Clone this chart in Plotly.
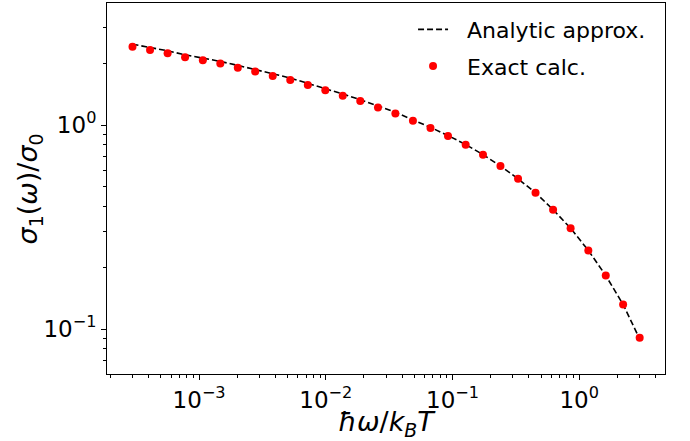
import numpy as np
import plotly.graph_objects as go

# x values: hbar*omega/(k_B T), log spaced
x_vals = [2.98e-4, 4.10e-4, 5.64e-4, 7.75e-4, 1.07e-3, 1.47e-3, 2.02e-3, 2.77e-3,
          3.81e-3, 5.24e-3, 7.21e-3, 9.91e-3, 1.36e-2, 1.87e-2, 2.58e-2, 3.54e-2,
          4.87e-2, 6.70e-2, 9.21e-2, 0.127, 0.174, 0.239, 0.329, 0.452, 0.622,
          0.855, 1.18, 1.62, 2.22, 3.0]

exact_vals = [2.42, 2.33, 2.25, 2.15, 2.08, 2.00, 1.91, 1.83, 1.74, 1.66,
              1.57, 1.48, 1.39, 1.31, 1.22, 1.14, 1.05, 0.967, 0.883, 0.80,
              0.715, 0.630, 0.545, 0.466, 0.385, 0.312, 0.243, 0.183, 0.132, 0.0906]

analytic_vals = [2.49, 2.40, 2.31, 2.21, 2.13, 2.05, 1.96, 1.87, 1.78, 1.70,
                 1.60, 1.51, 1.42, 1.33, 1.24, 1.155, 1.06, 0.975, 0.888, 0.803,
                 0.716, 0.630, 0.545, 0.466, 0.385, 0.312, 0.243, 0.183, 0.132, 0.0895]

x_tickvals = [1e-3, 1e-2, 1e-1, 1e0]
x_ticktext = ["10<sup>−3</sup>", "10<sup>−2</sup>", "10<sup>−1</sup>", "10<sup>0</sup>"]
y_tickvals = [1e-1, 1e0]
y_ticktext = ["10<sup>−1</sup>", "10<sup>0</sup>"]

FONT = "DejaVu Sans"
PAD = "\u00a0\u00a0"

fig = go.Figure()
fig.add_trace(go.Scatter(
    x=x_vals, y=analytic_vals, mode="lines", name=PAD + "Analytic approx.",
    line=dict(color="black", width=1.6, dash="6px,3px"), legendgroup="a",
))
fig.add_trace(go.Scatter(
    x=x_vals, y=exact_vals, mode="markers", name=PAD + "Exact calc.",
    marker=dict(color="red", size=8, line=dict(width=0)), legendgroup="b",
))

axis_common = dict(
    type="log", showgrid=False, zeroline=False, automargin=False,
    showline=True, linecolor="black", linewidth=1, mirror=True,
    ticks="outside", ticklen=5, tickwidth=1, tickcolor="black",
    tickfont=dict(family=FONT, size=23, color="black"),
    minor=dict(ticks="outside", ticklen=3, tickwidth=0.8, tickcolor="black", dtick="D1"),
)

fig.update_layout(
    width=690, height=441,
    margin=dict(l=107, r=25, t=3, b=67),
    paper_bgcolor="white", plot_bgcolor="white",
    font=dict(family=FONT, color="black"),
    xaxis=dict(
        **axis_common,
        range=[-3.727, 0.677],
        tickvals=x_tickvals, ticktext=x_ticktext,
        title=dict(text="<i>ħω</i>/<i>k</i><sub><i>B</i></sub><i>T</i>",
                   font=dict(family=FONT, size=27), standoff=0),
    ),
    yaxis=dict(
        **axis_common,
        range=[-1.22, 0.598],
        tickvals=y_tickvals, ticktext=y_ticktext,
    ),
    annotations=[dict(
        text="<i>σ</i><sub>1</sub>(<i>ω</i>)/<i>σ</i><sub>0</sub>",
        xref="paper", yref="paper", x=-0.138, y=0.5,
        xanchor="center", yanchor="middle", textangle=-90, showarrow=False,
        font=dict(family=FONT, size=27, color="black"),
    )],
    legend=dict(
        x=0.975, y=0.985, xanchor="right", yanchor="top",
        bgcolor="rgba(0,0,0,0)", borderwidth=0,
        font=dict(family=FONT, size=22, color="black"),
        itemwidth=30, tracegroupgap=5,
    ),
    showlegend=True,
)

fig.write_html("out.html", config={"displayModeBar": False},
               post_script="document.body.style.margin='0';document.body.style.overflow='hidden';")
